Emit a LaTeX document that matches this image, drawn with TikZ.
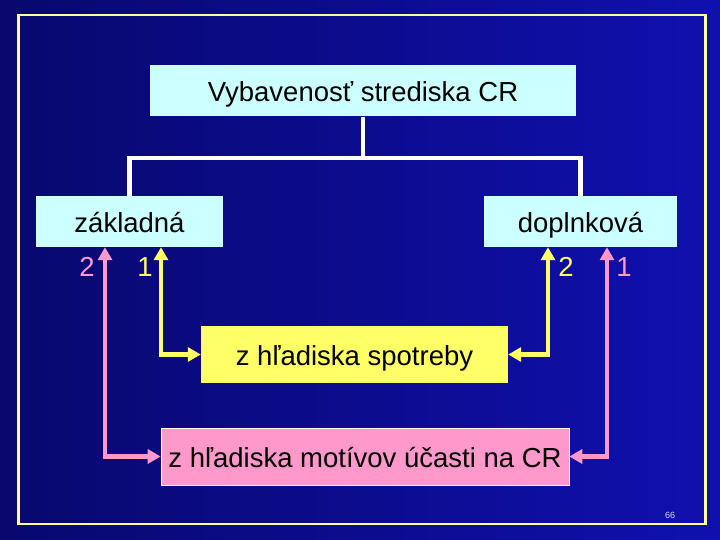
\documentclass[tikz,border=0pt]{standalone}
\usepackage{fontspec}
\setmainfont{Liberation Sans}
\usetikzlibrary{arrows.meta}
\definecolor{slidedark}{RGB}{8,8,110}
\definecolor{slideblue}{RGB}{16,16,175}
\definecolor{framey}{RGB}{255,255,153}
\definecolor{cyanbox}{RGB}{204,255,255}
\definecolor{yelbox}{RGB}{255,255,102}
\definecolor{pinkbox}{RGB}{255,153,204}
\begin{document}
\begin{tikzpicture}[x=1pt, y=-1pt,
    box/.style={inner sep=0pt, text height=24pt, text depth=2pt, font=\fontsize{27.5}{32}\selectfont, text=black},
    tree/.style={white, line width=4.5pt},
    ylink/.style={yelbox, line width=4.5pt, {Triangle[width=14pt,length=13pt]}-{Triangle[width=14pt,length=13pt]}},
    plink/.style={pinkbox, line width=4.5pt, {Triangle[width=14pt,length=13pt]}-{Triangle[width=14pt,length=13pt]}},
    lab/.style={font=\fontsize{27.5}{32}\selectfont}]
    % Background and frame
    \shade[left color=slidedark, right color=slideblue] (0,0) rectangle (720,540);
    \draw[framey, line width=2.5pt] (18.5,15) rectangle (705.5,524);

    % Boxes
    \node[box, fill=cyanbox, minimum width=426pt, minimum height=51pt] (top) at (363,91) {Vybavenosť strediska CR};
    \node[box, fill=cyanbox, minimum width=187pt, minimum height=51pt] (basic) at (129.5,221.5) {základná};
    \node[box, fill=cyanbox, minimum width=193pt, minimum height=51pt] (extra) at (580.5,221.5) {doplnková};
    \node[box, fill=yelbox, minimum width=307pt, minimum height=57pt] (spot) at (354.5,354.5) {z hľadiska spotreby};
    \node[box, fill=pinkbox, draw=white, line width=0.6pt, minimum width=408pt, minimum height=57pt] (motiv) at (365,456.5) {z hľadiska motívov účasti na CR};

    % Tree lines
    \draw[tree] (top.south) -- ++(0,42);
    \draw[tree] (basic.north) -- ++(0,-38) -| (extra.north);

    % Arrows
    \draw[ylink] (spot.west) -| ([xshift=31.5pt]basic.south);
    \draw[ylink] (spot.east) -| ([xshift=-32.5pt]extra.south);
    \draw[plink] (motiv.west) -| ([xshift=-24.5pt]basic.south);
    \draw[plink] (motiv.east) -| ([xshift=26.5pt]extra.south);

    % Numbers
    \node[lab, text=pinkbox] (b2) at (87,267) {2};
    \node[lab, text=yelbox] (b1) at (145,267) {1};
    \node[lab, text=yelbox] (e2) at (566,267) {2};
    \node[lab, text=pinkbox] (e1) at (624,267) {1};

    % Page number
    \node[font=\fontsize{9}{10}\selectfont, text=white!85!blue] (page) at (670,515) {66};
\end{tikzpicture}
\end{document}
